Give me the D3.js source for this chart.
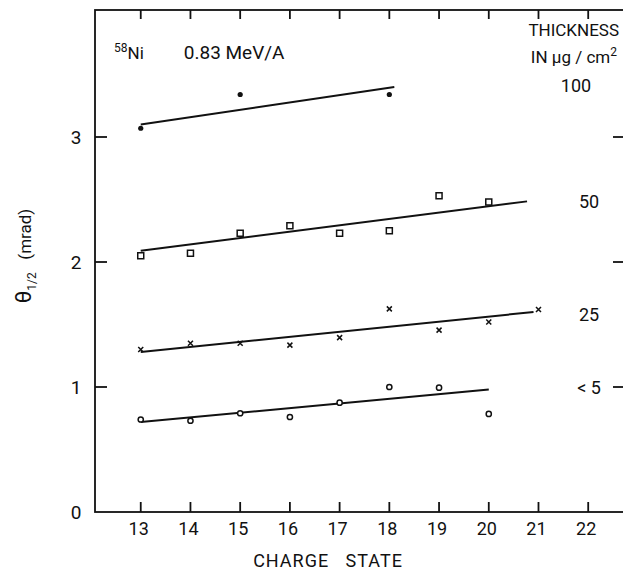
<!DOCTYPE html>
<html>
<head>
<meta charset="utf-8">
<script src="https://cdn.jsdelivr.net/npm/d3@7"></script>
<style>
  body { margin: 0; background: #fff; }
  svg { display: block; font-family: Roboto, "Liberation Sans", sans-serif; }
  .lbl { font-size: 17px; fill: #111; }
</style>
</head>
<body>
<svg id="chart" width="623" height="572"></svg>
<script>

// theta 1/2 values (mrad) per charge state
var thick100 = [[13, 3.07], [15, 3.34], [18, 3.34]];
var thick50 = [[13, 2.05], [14, 2.07], [15, 2.23], [16, 2.29], [17, 2.23], [18, 2.25], [19, 2.53], [20, 2.48]];
var thick25 = [[13, 1.30], [14, 1.35], [15, 1.35], [16, 1.335], [17, 1.395], [18, 1.625], [19, 1.455], [20, 1.52], [21, 1.62]];
var thick5 = [[13, 0.74], [14, 0.73], [15, 0.79], [16, 0.76], [17, 0.875], [18, 1.0], [19, 0.995], [20, 0.785]];

// fitted lines, endpoints
var fit100 = [[13, 3.10], [18.1, 3.40]];
var fit50 = [[13, 2.09], [20.77, 2.485]];
var fit25 = [[13, 1.28], [20.9, 1.60]];
var fit5 = [[13, 0.72], [20.0, 0.98]];

var xTicks = [13, 14, 15, 16, 17, 18, 19, 20, 21, 22];
var yTicks = [0, 1, 2, 3];

// thickness labels on the right, with the level they sit at
var sideLabels = ["100", "50", "25", "< 5"];
var sideLevels = [3.41, 2.48, 1.58, 0.99];

var margin = {top: 10, left: 95, right: 625, bottom: 512};

var svg = d3.select("#chart");

var x = d3.scaleLinear().domain([12.08, 22.74]).range([margin.left, margin.right]);
var y = d3.scaleLinear().domain([0, 4.016]).range([margin.bottom, margin.top]);

var frame = svg.append("g").attr("stroke", "#111").attr("stroke-width", 1.8).attr("fill", "none");

frame.append("rect")
	.attr("x", margin.left)
	.attr("y", margin.top)
	.attr("width", margin.right - margin.left)
	.attr("height", margin.bottom - margin.top);

/* inward ticks all round */
xTicks.forEach(function(t){
	frame.append("line").attr("x1", x(t)).attr("x2", x(t)).attr("y1", margin.bottom).attr("y2", margin.bottom - 10);
	frame.append("line").attr("x1", x(t)).attr("x2", x(t)).attr("y1", margin.top).attr("y2", margin.top + 9);
});
yTicks.slice(1).forEach(function(t){
	frame.append("line").attr("x1", margin.left).attr("x2", margin.left + 12).attr("y1", y(t)).attr("y2", y(t));
	frame.append("line").attr("x1", margin.right).attr("x2", margin.right - 12).attr("y1", y(t)).attr("y2", y(t));
});

svg.selectAll(".xlab")
	.data(xTicks)
	.enter().append("text")
	.attr("class", "lbl")
	.style("font-size", "18px")
	.attr("x", function(d){ return x(d) - 2; })
	.attr("y", 535)
	.attr("text-anchor", "middle")
	.text(function(d){ return d; });

svg.selectAll(".ylab")
	.data(yTicks)
	.enter().append("text")
	.attr("class", "lbl")
	.style("font-size", "19px")
	.attr("x", 76)
	.attr("y", function(d){ return y(d) + 7; })
	.attr("text-anchor", "middle")
	.text(function(d){ return d; });

svg.append("text")
	.attr("class", "lbl")
	.style("font-size", "18px")
	.attr("x", 328)
	.attr("y", 567)
	.attr("text-anchor", "middle")
	.style("letter-spacing", "1px")
	.attr("xml:space", "preserve")
	.text("CHARGE   STATE");

/* y axis title */
var yt = svg.append("text")
	.attr("class", "lbl")
	.attr("transform", "translate(31,256) rotate(-90)")
	.attr("text-anchor", "middle");
yt.append("tspan").style("font-size", "22px").text("\u03B8");
yt.append("tspan").style("font-size", "12px").attr("dy", 5).text("1/2");
yt.append("tspan").attr("dy", -5).attr("xml:space", "preserve").text("   (mrad)");

/* annotations */
var ni = svg.append("text").attr("class", "lbl").attr("x", 114).attr("y", 59);
ni.append("tspan").style("font-size", "12px").attr("dy", -7).text("58");
ni.append("tspan").attr("dy", 7).text("Ni");
ni.append("tspan").attr("dx", 40).style("font-size", "19px").text("0.83 MeV/A");

svg.append("text").attr("class", "lbl").attr("x", 619).attr("y", 36).attr("text-anchor", "end").text("THICKNESS");
var th = svg.append("text").attr("class", "lbl").attr("x", 617).attr("y", 63).attr("text-anchor", "end");
th.append("tspan").text("IN \u00B5g / cm");
th.append("tspan").style("font-size", "12px").attr("dy", -7).text("2");

svg.selectAll(".side")
	.data(sideLabels)
	.enter().append("text")
	.attr("class", "lbl")
	.style("font-size", "18px")
	.attr("x", function(d, i){ return i == 0 ? 576 : 589; })
	.attr("y", function(d, i){ return y(sideLevels[i]) + 6; })
	.attr("text-anchor", "middle")
	.text(function(d){ return d; });

/* fitted lines */
var line = d3.line().x(function(d){ return x(d[0]); }).y(function(d){ return y(d[1]); });
[fit100, fit50, fit25, fit5].forEach(function(f){
	svg.append("path")
		.datum(f)
		.attr("d", line)
		.attr("fill", "none")
		.attr("stroke", "#111")
		.attr("stroke-width", 2);
});

/* markers */
svg.selectAll(".p100").data(thick100).enter().append("circle")
	.attr("cx", function(d){ return x(d[0]); })
	.attr("cy", function(d){ return y(d[1]); })
	.attr("r", 2.6)
	.attr("fill", "#111");

svg.selectAll(".p50").data(thick50).enter().append("rect")
	.attr("x", function(d){ return x(d[0]) - 3; })
	.attr("y", function(d){ return y(d[1]) - 3; })
	.attr("width", 6).attr("height", 6)
	.attr("fill", "#fff").attr("stroke", "#111").attr("stroke-width", 1.5);

svg.selectAll(".p25").data(thick25).enter().append("path")
	.attr("transform", function(d){ return "translate(" + x(d[0]) + "," + y(d[1]) + ")"; })
	.attr("d", "M-2.5,-2.5L2.5,2.5M-2.5,2.5L2.5,-2.5")
	.attr("stroke", "#111").attr("stroke-width", 1.5);

svg.selectAll(".p5").data(thick5).enter().append("circle")
	.attr("cx", function(d){ return x(d[0]); })
	.attr("cy", function(d){ return y(d[1]); })
	.attr("r", 2.6)
	.attr("fill", "#fff").attr("stroke", "#111").attr("stroke-width", 1.5);

</script>
</body>
</html>
